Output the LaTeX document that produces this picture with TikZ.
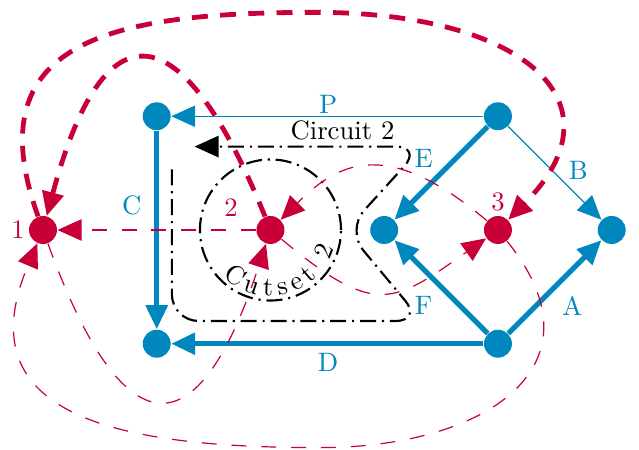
\documentclass[tikz,border=0pt]{standalone}
\usetikzlibrary{arrows.meta,decorations.text,calc}
\definecolor{gblue}{RGB}{0,135,190}
\definecolor{gred}{RGB}{200,0,55}
\tikzset{
  bnode/.style={circle, fill=gblue, inner sep=0pt, minimum size=10.5pt},
  rnode/.style={circle, fill=gred, inner sep=0pt, minimum size=10.5pt},
  mytip/.style={-{Triangle[length=9pt,width=8pt]}},
  bthin/.style={mytip, draw=gblue, line width=0.45pt},
  bthick/.style={mytip, draw=gblue, line width=1.9pt},
  rthick/.style={mytip, draw=gred, line width=1.8pt, dash pattern=on 6pt off 4.6pt},
  rthin/.style={mytip, draw=gred, line width=0.45pt, dash pattern=on 5.6pt off 5.6pt},
  circuitline/.style={draw=black, line width=0.8pt, dash pattern=on 6pt off 2.2pt on 0.8pt off 2.2pt},
  blab/.style={text=gblue, inner sep=0pt},
  rlab/.style={text=gred, inner sep=0pt},
}
\begin{document}
\begin{tikzpicture}
\useasboundingbox (-0.567,-2.901) rectangle (7.86,3.033);
% nodes
\node[rnode] (n1) at (0,0) {};
\node[rnode] (n2) at (3,0) {};
\node[rnode] (n3) at (6,0) {};
\node[bnode] (tl) at (1.5,1.5) {};
\node[bnode] (tr) at (6,1.5) {};
\node[bnode] (bl) at (1.5,-1.5) {};
\node[bnode] (br) at (6,-1.5) {};
\node[bnode] (ml) at (4.5,0) {};
\node[bnode] (rr) at (7.5,0) {};
% blue edges
\draw[bthin] (tr) -- (tl);
\draw[bthin] (tr) -- (rr);
\draw[bthick] (tr) -- (ml);
\draw[bthick] (tl) -- (bl);
\draw[bthick] (br) -- (bl);
\draw[bthick] (br) -- (ml);
\draw[bthick] (br) -- (rr);
% blue labels
\node[blab] (lP) at (3.76,1.65) {P};
\node[blab] (lC) at (1.17,0.32) {C};
\node[blab] (lB) at (7.06,0.79) {B};
\node[blab] (lE) at (5.02,0.95) {E};
\node[blab] (lF) at (5.02,-1.0) {F};
\node[blab] (lA) at (6.98,-1.0) {A};
\node[blab] (lD) at (3.76,-1.74) {D};
% red labels
\node[rlab] (l1) at (-0.33,0) {1};
\node[rlab] (l2) at (2.48,0.30) {2};
\node[rlab] (l3) at (6.0,0.37) {3};
% circuit 2
\coordinate (c0) at (1.7,0.8);
\coordinate (c1) at (1.7,-1.2);
\coordinate (c2) at (5.0,-1.2);
\coordinate (c3) at (4.0,0);
\coordinate (c4) at (5.0,1.1);
\coordinate (c5) at (2.0,1.1);
\draw[circuitline, rounded corners=10pt, mytip] (c0) -- (c1) -- (c2) -- (c3) -- (c4) -- (c5);
\node[anchor=south, inner sep=2.2pt] (lcirc) at (3.95,1.1) {Circuit 2};
% cutset 2
\draw[circuitline] (n2.center) circle[radius=0.93];
\path[decorate, decoration={text along path, text={Cutset 2}, text align={fit to path}}]
  ($(n2.center)+(224:0.87)$) arc[start angle=224, end angle=344, radius=0.87];
% red edges
\draw[rthin] (n2) -- (n1);
\draw[rthin] (n3) .. controls (4.55,1.22) and (3.91,0.91) .. (n2);
\draw[rthin] (n2) .. controls (4.39,-1.16) and (4.62,-0.97) .. (n3);
\draw[rthin] (n1) .. controls (1.06,-2.92) and (2.04,-2.95) .. (n2);
\draw[rthin] (n3) .. controls (7.45,-1.79) and (5.85,-2.87) .. (3.65,-2.87)
  .. controls (1.05,-2.87) and (-1.05,-2.48) .. (n1);
\draw[rthick] (n2) .. controls (1.91,2.70) and (0.85,3.17) .. (n1);
\draw[rthick] (n1) .. controls (-0.9,2.5) and (0.9,2.87) .. (3.6,2.87)
  .. controls (6.3,2.87) and (7.7,1.7) .. (n3);
\end{tikzpicture}
\end{document}
